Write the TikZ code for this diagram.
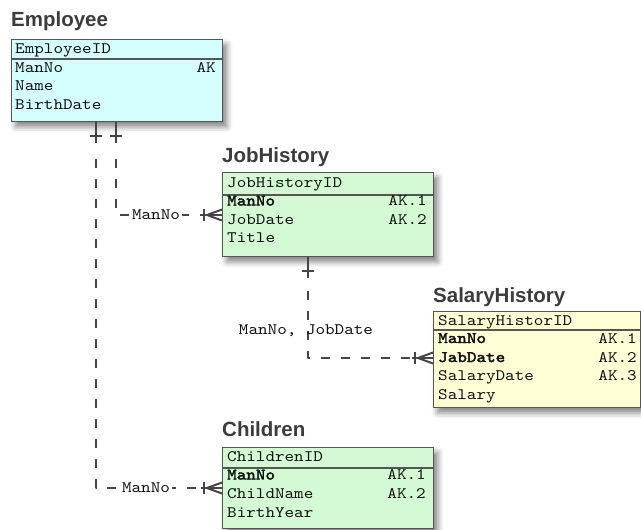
\documentclass[tikz,border=0pt]{standalone}
\usepackage{fontspec}
\newfontfamily\fieldfont{lmmono10-regular.otf}[BoldFont=lmmono10-regular.otf, BoldFeatures={FakeBold=2.5}, FakeStretch=1.14]
\newfontfamily\titlefont{Liberation Sans}
\usetikzlibrary{calc,shadows.blur}
\definecolor{ink}{HTML}{454545}
\definecolor{boxline}{HTML}{555555}
\definecolor{titlegray}{HTML}{3C3C3C}
\definecolor{textcol}{HTML}{111111}
\definecolor{empfill}{RGB}{213,255,255}
\definecolor{grnfill}{RGB}{212,250,212}
\definecolor{yelfill}{RGB}{255,255,214}
\tikzset{
  entity/.style={draw=boxline, line width=1.3pt, anchor=north west, inner sep=0pt,
    blur shadow={shadow xshift=4pt, shadow yshift=-5pt, shadow blur radius=6pt, shadow opacity=50}},
  entitytitle/.style={anchor=base west, inner sep=0pt, text=titlegray,
    font=\titlefont\bfseries\fontsize{20.5}{24}\selectfont},
  field/.style={anchor=base west, inner sep=0pt, text=textcol,
    font=\fieldfont\fontsize{16}{18}\selectfont},
  keyfield/.style={field, font=\fieldfont\bfseries\fontsize{16}{18}\selectfont},
  akfield/.style={field, anchor=base east},
  sepline/.style={draw=boxline, line width=1.8pt},
  conn/.style={draw=ink, line width=2pt, line join=round},
  dashconn/.style={conn, dash pattern=on 9pt off 11pt},
  rellabel/.style={inner sep=2pt, text=textcol, font=\fieldfont\fontsize{16}{18}\selectfont},
}
\newcommand\crowend[1]{%
  \draw[conn] ($(#1)+(-21,0)$) -- (#1);
  \draw[conn] ($(#1)+(-18,-6)$) -- ($(#1)+(-18,6)$);
  \draw[conn] ($(#1)+(0,-5.5)$) -- ($(#1)+(-15,0)$) -- ($(#1)+(0,5.5)$);}
\newcommand\barstart[1]{%
  \draw[conn] (#1) -- ($(#1)+(0,21)$);
  \draw[conn] ($(#1)+(-6,14)$) -- ($(#1)+(6,14)$);}
\begin{document}
\begin{tikzpicture}[x=1pt,y=-1pt]
\useasboundingbox (0,0) rectangle (641,530);

% ---------- Employee ----------
\node[entity, fill=empfill, minimum width=211pt, minimum height=82pt] (emp) at (11,39) {};
\node[entitytitle] (emp-t) at (11,27) {Employee};
\draw[sepline] ($(emp.north west)+(0,20)$) -- ($(emp.north east)+(0,20)$);
\node[field] (emp-f0) at (15,53.5) {EmployeeID};
\node[field] (emp-f1) at (15,72) {ManNo};
\node[akfield] (emp-k1) at (216,72) {AK};
\node[field] (emp-f2) at (15,90.5) {Name};
\node[field] (emp-f3) at (15,109) {BirthDate};

% ---------- JobHistory ----------
\node[entity, fill=grnfill, minimum width=211pt, minimum height=84pt] (jh) at (222,172) {};
\node[entitytitle] (jh-t) at (222,162) {JobHistory};
\draw[sepline] ($(jh.north west)+(0,23)$) -- ($(jh.north east)+(0,23)$);
\node[field] (jh-f0) at (227,187) {JobHistoryID};
\node[keyfield] (jh-f1) at (227,205.5) {ManNo};
\node[akfield] (jh-k1) at (427,205.5) {AK.1};
\node[field] (jh-f2) at (227,224) {JobDate};
\node[akfield] (jh-k2) at (427,224) {AK.2};
\node[field] (jh-f3) at (227,242.5) {Title};

% ---------- SalaryHistory ----------
\node[entity, fill=yelfill, minimum width=207pt, minimum height=96pt] (sh) at (433,311) {};
\node[entitytitle] (sh-t) at (433,302.5) {SalaryHistory};
\draw[sepline] ($(sh.north west)+(0,19)$) -- ($(sh.north east)+(0,19)$);
\node[field] (sh-f0) at (438,325) {SalaryHistorID};
\node[keyfield] (sh-f1) at (438,343) {ManNo};
\node[akfield] (sh-k1) at (637,343) {AK.1};
\node[keyfield] (sh-f2) at (438,362) {JabDate};
\node[akfield] (sh-k2) at (637,362) {AK.2};
\node[field] (sh-f3) at (438,380.5) {SalaryDate};
\node[akfield] (sh-k3) at (637,380.5) {AK.3};
\node[field] (sh-f4) at (438,399) {Salary};

% ---------- Children ----------
\node[entity, fill=grnfill, minimum width=211pt, minimum height=81pt] (ch) at (222,447) {};
\node[entitytitle] (ch-t) at (222,436) {Children};
\draw[sepline] ($(ch.north west)+(0,21)$) -- ($(ch.north east)+(0,21)$);
\node[field] (ch-f0) at (227,461) {ChildrenID};
\node[keyfield] (ch-f1) at (227,479.5) {ManNo};
\node[akfield] (ch-k1) at (426,479.5) {AK.1};
\node[field] (ch-f2) at (227,498.5) {ChildName};
\node[akfield] (ch-k2) at (426,498.5) {AK.2};
\node[field] (ch-f3) at (227,517) {BirthYear};

% ---------- Employee -> JobHistory ----------
\coordinate (r1s) at ($(emp.south west)+(105,0)$);
\coordinate (r1e) at ($(jh.north west)+(0,43)$);
\barstart{r1s}
\draw[dashconn] ($(r1s)+(0,37)$) |- ($(r1e)+(-21,0)$);
\crowend{r1e}
\node[rellabel, fill=white] (r1l) at ($(r1e)+(-66,0)$) {ManNo};

% ---------- Employee -> Children ----------
\coordinate (r2s) at ($(emp.south west)+(85,0)$);
\coordinate (r2e) at ($(ch.north west)+(0,41)$);
\barstart{r2s}
\draw[dashconn] ($(r2s)+(0,37)$) |- ($(r2e)+(-21,0)$);
\crowend{r2e}
\node[rellabel, fill=white] (r2l) at ($(r2e)+(-76,0)$) {ManNo};

% ---------- JobHistory -> SalaryHistory ----------
\coordinate (r3s) at ($(jh.south west)+(86,0)$);
\coordinate (r3e) at ($(sh.north west)+(0,47)$);
\barstart{r3s}
\draw[dashconn] ($(r3s)+(0,34)$) |- ($(r3e)+(-21,0)$);
\crowend{r3e}
\node[rellabel] (r3l) at ($(r3e)+(-127,-27)$) {ManNo, JobDate};
\end{tikzpicture}
\end{document}
